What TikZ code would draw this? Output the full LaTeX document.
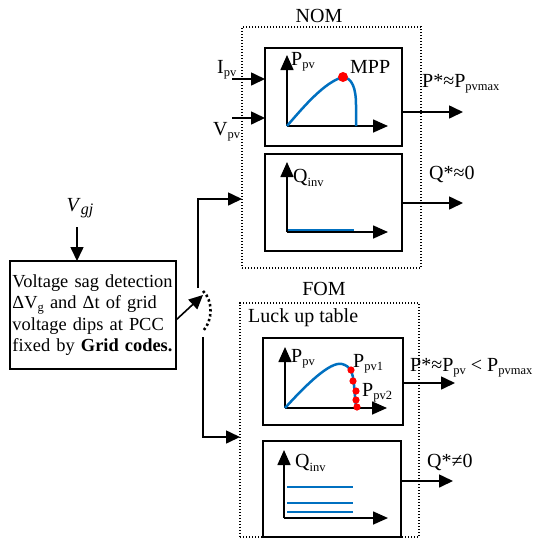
\documentclass[tikz,border=0pt]{standalone}
\usepackage{fontspec}
\setmainfont{Liberation Serif}
\usetikzlibrary{arrows.meta,positioning}
\definecolor{pvblue}{HTML}{0070C0}
\definecolor{mppred}{HTML}{FF0000}
\newcommand{\sbs}[1]{\raisebox{-0.35ex}{\fontsize{12.5}{12.5}\selectfont #1}}
\tikzset{blk/.style={draw,line width=1.4pt,inner sep=0pt,outer sep=0pt},frm/.style={draw,line width=1.3pt,dash pattern=on 1.4pt off 1.6pt,inner sep=0pt,outer sep=0pt},arr/.style={-{Triangle[length=14pt,width=13pt]},line width=1.6pt},ax/.style={-{Triangle[length=15pt,width=13pt]},line width=1.6pt},crv/.style={draw=pvblue,line width=2.5pt},lbl/.style={font=\fontsize{20}{22}\selectfont,inner sep=0pt}}

\begin{document}
\begin{tikzpicture}[x=1pt,y=-1pt,gbox/.style={blk,minimum width=137,minimum height=97}]
\useasboundingbox (0,0) rectangle (540,539);
\node[frm,minimum width=179,minimum height=241] (nom) at (331.5,147.5) {};
\node[frm,minimum width=179,minimum height=234] (fom) at (329.5,420) {};
\node[lbl] (nomT) at (319,16) {NOM};
\node[lbl] (fomT) at (324,289) {FOM};
\node[lbl,anchor=west] (lut) at (248,318) {Luck up table};
\node[gbox,minimum height=98] (nomP) at (333.5,97) {};
\node[gbox] (nomQ) at (333.5,202.5) {};
\node[gbox,minimum width=140,minimum height=87] (fomP) at (333,381.5) {};
\node[gbox,minimum width=138,minimum height=96] (fomQ) at (332,489) {};
\node[blk,minimum width=166,minimum height=108,text width=161pt,align=left,inner xsep=2.5pt,font=\fontsize{18.4}{21.5}\selectfont] (det) at (93,315) {Voltage sag detection\\ΔV\sbs{g} and Δt of grid\\voltage dips at PCC\\fixed by \textbf{Grid codes.}};
\node[lbl] (vg) at (80,208) {\textit{V}\raisebox{-0.4ex}{\fontsize{16}{16}\selectfont\textit{gj}}};
\coordinate (vgA) at (77,227);
\draw[arr] (vgA) -- (vgA |- det.north);
\coordinate (sw) at (203,295);
\coordinate (up) at (198,288);
\coordinate (lo) at (203,337);
\coordinate (nomA) at (nom.west |- 0,199);
\coordinate (fomA) at (fom.west |- 0,437);
\draw[arr] ([yshift=-5pt]det.east) -- (sw);
\draw[arr] (up) |- (nomA);
\draw[arr] (lo) |- (fomA);
\draw[line width=2.6pt,dash pattern=on 2.4pt off 2.6pt] (203,291) .. controls (213,300) and (213,321) .. (203,331);
\node[lbl,anchor=west] (ipv) at (217,70) {I\sbs{pv}};
\node[lbl,anchor=west] (vpv) at (213,132) {V\sbs{pv}};
\coordinate (ipvA) at (232,79);
\coordinate (vpvA) at (232,118);
\draw[arr] (ipvA) -- (ipvA -| nomP.west);
\draw[arr] (vpvA) -- (vpvA -| nomP.west);
\draw[ax] (287,126) -- (388,126);
\draw[ax] (287,126) -- (287,55);
\draw[crv] (287,126) .. controls (305,105) and (325,82) .. (343,77) .. controls (352,78) and (356,88) .. (356,105) -- (356,126);
\fill[mppred] (343,77) circle (5pt);
\node[lbl,anchor=west] (pnom) at (291,62) {P\sbs{pv}};
\node[lbl,anchor=west] (mpp) at (350,67) {MPP};
\draw[ax] (287,232) -- (388,232);
\draw[ax] (287,232) -- (287,162);
\draw[crv] (288,230) -- (354,230);
\node[lbl,anchor=west] (qnom) at (293,178) {Q\sbs{inv}};
\draw[ax] (285,408) -- (387,408);
\draw[ax] (285,408) -- (285,347);
\draw[crv] (285,408) .. controls (305,386) and (330,361) .. (342,364) .. controls (350,366) and (353,372) .. (354,385) -- (356,408);
\foreach \p in {(351,370),(353,381),(356,391),(356,400),(357,407)} \fill[mppred] \p circle (3.6pt);
\node[lbl,anchor=west] (pfom) at (291,359) {P\sbs{pv}};
\node[lbl,anchor=west] (pv1) at (353,364) {P\sbs{pv1}};
\node[lbl,anchor=west] (pv2) at (362,393) {P\sbs{pv2}};
\draw[ax] (284,518) -- (388,518);
\draw[ax] (284,518) -- (284,450);
\foreach \y in {487,503,512} \draw[crv] (287,\y) -- (353,\y);
\node[lbl,anchor=west] (qfom) at (295,463) {Q\sbs{inv}};
\coordinate (pA) at (463,112);
\coordinate (qA) at (463,203);
\coordinate (pB) at (455,383);
\coordinate (qB) at (453,481);
\draw[arr] (nomP.east |- pA) -- (pA);
\draw[arr] (nomQ.east |- qA) -- (qA);
\draw[arr] (fomP.east |- pB) -- (pB);
\draw[arr] (fomQ.east |- qB) -- (qB);
\node[lbl,anchor=west] (pL) at (422,84) {P*≈P\sbs{pvmax}};
\node[lbl,anchor=west] (qL) at (429,174) {Q*≈0};
\node[lbl,anchor=west] (pBL) at (410,368) {P*≈P\sbs{pv} < P\sbs{pvmax}};
\node[lbl,anchor=west] (qBL) at (427,462) {Q*≠0};
\end{tikzpicture}
\end{document}
